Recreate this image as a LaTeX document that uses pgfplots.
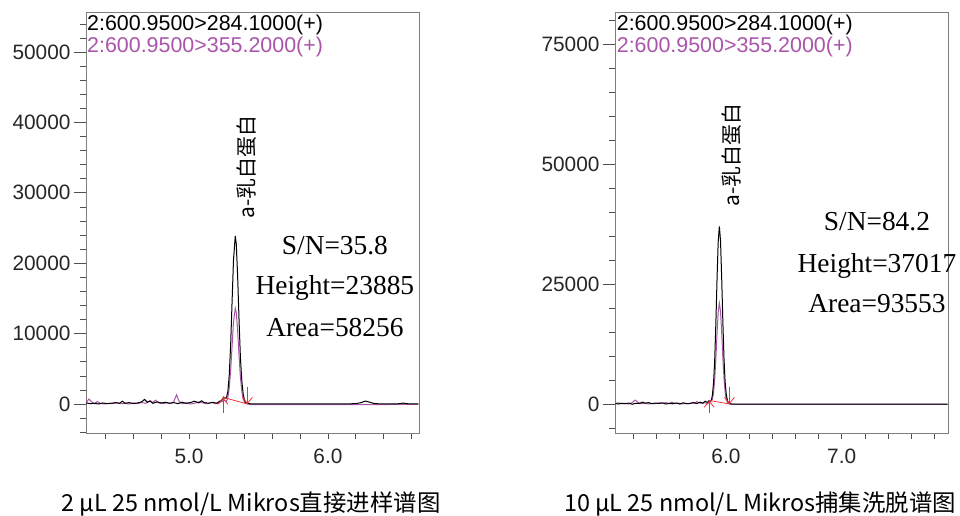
\documentclass[border=0pt]{standalone}
\usepackage{fontspec}
\setmainfont{Liberation Sans}
\newfontfamily\serif{Liberation Serif}
\newfontfamily\cjk{Noto Sans CJK SC}
\usepackage{pgfplots}
\pgfplotsset{compat=1.18}
\usetikzlibrary{arrows.meta}

\definecolor{axgray}{RGB}{125,125,125}
\definecolor{tkgray}{RGB}{80,80,80}
\definecolor{mrm}{RGB}{170,85,170}
\definecolor{intred}{RGB}{245,50,50}

\pgfplotsset{
  chrom/.style={
    scale only axis, width=333bp, height=421bp,
    anchor=south west, clip=false,
    axis line style={draw=axgray, line width=0.9bp},
    tick style={draw=tkgray, line width=0.6bp},
    tick align=outside, xtick pos=bottom, ytick pos=left,
    major tick length=12bp, minor tick length=6bp,
    major x tick style={draw=none},
    /pgf/number format/assume math mode=true,
    ticklabel style={font=\fontsize{20.9}{24}\selectfont, text=black!85},
  },
}
\tikzset{
  legtext/.style={font=\fontsize{21.5}{24}\selectfont, inner sep=0pt, anchor=base west},
  stattext/.style={font=\serif\fontsize{27.5}{30}\selectfont, inner sep=0pt, anchor=base},
  captext/.style={font=\cjk\fontsize{23.5}{26}\selectfont, inner sep=0pt, anchor=base},
  cmpdtext/.style={font=\cjk\fontsize{21}{24}\selectfont, inner sep=0pt, rotate=90},
}

\begin{document}
\begin{tikzpicture}
\useasboundingbox (0,0) rectangle (960bp,516bp);

% left: direct injection
\begin{axis}[chrom, at={(86bp,83bp)},
  xmin=4.259, xmax=6.655, ymin=-4120, ymax=55680,
  xtick={5.0,6.0}, xticklabels={5.0,6.0},
  minor xtick={4.4,4.6,4.8,5.0,5.2,5.4,5.6,5.8,6.0,6.2,6.4,6.6},
  ytick={0,10000,20000,30000,40000,50000},
  yticklabels={0,10000,20000,30000,40000,50000},
  minor ytick={-4000,-2000,2000,4000,6000,8000,12000,14000,16000,18000,22000,24000,26000,28000,32000,34000,36000,38000,42000,44000,46000,48000,52000,54000},
]
\addplot[mrm, line width=1bp] coordinates {
(4.26,200) (4.28,700) (4.30,300) (4.32,50) (4.34,350) (4.36,100) (4.39,0)
(4.42,100) (4.45,50) (4.48,150) (4.51,50) (4.54,100) (4.57,0) (4.60,150)
(4.63,50) (4.66,200) (4.69,100) (4.72,500) (4.74,200) (4.76,550) (4.78,150)
(4.81,50) (4.84,150) (4.87,100) (4.89,300) (4.91,1300) (4.93,350) (4.95,50)
(4.98,150) (5.01,0) (5.04,100) (5.07,300) (5.10,150) (5.13,50) (5.16,200)
(5.19,50) (5.22,200) (5.25,500) (5.27,400) (5.28,900) (5.29,2300) (5.30,4800)
(5.31,8200) (5.32,11600) (5.333,13600) (5.34,13000) (5.35,10400) (5.36,6900)
(5.37,3800) (5.38,1800) (5.39,700) (5.40,250) (5.42,0) (5.45,-100) (5.6,-80)
(5.8,-100) (6.0,-80) (6.2,-100) (6.4,-80) (6.55,-50) (6.65,-60)
};
\addplot[black, line width=1bp] coordinates {
(4.26,150) (4.29,50) (4.32,100) (4.35,0) (4.38,150) (4.41,50) (4.44,100)
(4.47,200) (4.50,100) (4.52,400) (4.54,100) (4.57,200) (4.60,50) (4.63,150)
(4.66,300) (4.68,650) (4.70,250) (4.72,400) (4.74,100) (4.77,300) (4.80,150)
(4.83,250) (4.86,100) (4.89,200) (4.92,50) (4.95,250) (4.98,100) (5.01,200)
(5.04,400) (5.07,150) (5.09,450) (5.11,200) (5.14,100) (5.17,250) (5.20,100)
(5.22,400) (5.235,500) (5.25,1000) (5.26,800) (5.27,900) (5.28,1800)
(5.29,4200) (5.30,8500) (5.31,14500) (5.32,20350) (5.333,23885) (5.34,22800)
(5.35,18200) (5.36,12000) (5.37,6600) (5.38,3300) (5.39,1400) (5.40,500)
(5.41,200) (5.43,50) (5.46,0) (5.55,30) (5.7,0) (5.9,20) (6.1,0) (6.2,50)
(6.24,200) (6.27,420) (6.30,250) (6.33,80) (6.36,30) (6.40,0) (6.50,20)
(6.54,120) (6.58,20) (6.65,0)
};
\addplot[color=intred, line width=0.8bp] coordinates {(5.245,950) (5.42,0)};
\addplot[color=intred, line width=0.8bp, -{Straight Barb[length=6bp,width=10bp]}] coordinates {(5.245,-1300) (5.245,900)};
\addplot[color=intred, line width=0.8bp, -{Straight Barb[length=6bp,width=10bp]}] coordinates {(5.42,2400) (5.42,0)};
\node[legtext, text=black] at (axis description cs:0.003,1) [yshift=-18.5bp] {2:600.9500>284.1000(+)};
\node[legtext, text=mrm] at (axis description cs:0.003,1) [yshift=-41bp] {2:600.9500>355.2000(+)};
\node[cmpdtext] at (axis cs:5.415,33660) {a-乳白蛋白};
\node[stattext] at (axis cs:6.05,21165) {S/N=35.8};
\node[stattext] at (axis cs:6.05,15483) {Height=23885};
\node[stattext] at (axis cs:6.05,9517) {Area=58256};
\node[captext] at (axis description cs:0.4955,-0.1853) {2 µL 25 nmol/L Mikros直接进样谱图};
\end{axis}

% right: trap and elute
\begin{axis}[chrom, at={(615bp,83bp)},
  xmin=5.041, xmax=7.919, ymin=-6040, ymax=81670,
  xtick={6.0,7.0}, xticklabels={6.0,7.0},
  minor xtick={5.2,5.4,5.6,5.8,6.0,6.2,6.4,6.6,6.8,7.0,7.2,7.4,7.6,7.8},
  ytick={0,25000,50000,75000},
  yticklabels={0,25000,50000,75000},
  minor ytick={-5000,5000,10000,15000,20000,30000,35000,40000,45000,55000,60000,65000,70000,80000},
]
\addplot[mrm, line width=1bp] coordinates {
(5.045,100) (5.07,250) (5.10,50) (5.13,150) (5.16,0) (5.19,300) (5.216,830)
(5.24,300) (5.27,50) (5.30,200) (5.33,0) (5.36,150) (5.39,50) (5.42,250)
(5.45,100) (5.48,300) (5.51,50) (5.53,400) (5.56,100) (5.59,200) (5.62,0)
(5.65,150) (5.68,50) (5.71,200) (5.73,100) (5.75,500) (5.78,150) (5.81,300)
(5.84,100) (5.86,400) (5.873,600) (5.883,1000) (5.893,2400) (5.903,5200)
(5.913,9600) (5.923,14800) (5.933,19200) (5.943,21000) (5.953,19300)
(5.963,14900) (5.973,9700) (5.983,5300) (5.993,2400) (6.003,900) (6.013,300)
(6.03,0) (6.1,-100) (6.5,-100) (7.0,-100) (7.5,-100) (7.915,-100)
};
\addplot[black, line width=1bp] coordinates {
(5.045,100) (5.07,0) (5.10,150) (5.13,50) (5.16,200) (5.19,-50) (5.22,150)
(5.25,100) (5.28,400) (5.30,150) (5.33,300) (5.36,50) (5.39,200) (5.42,100)
(5.45,250) (5.48,0) (5.51,150) (5.54,50) (5.57,200) (5.60,0) (5.63,250)
(5.66,50) (5.69,150) (5.72,300) (5.75,100) (5.78,400) (5.80,150) (5.82,600)
(5.84,300) (5.855,750) (5.865,650) (5.875,900) (5.883,1900) (5.893,4500)
(5.903,9400) (5.913,17000) (5.923,26200) (5.933,33900) (5.943,37017)
(5.953,34000) (5.963,26300) (5.973,17200) (5.983,9500) (5.993,4500)
(6.003,1900) (6.013,700) (6.023,250) (6.033,80) (6.05,0) (6.5,0) (7.0,0)
(7.5,0) (7.915,0)
};
\addplot[color=intred, line width=0.8bp] coordinates {(5.855,750) (6.03,0)};
\addplot[color=intred, line width=0.8bp, -{Straight Barb[length=6bp,width=10bp]}] coordinates {(5.855,-1900) (5.855,700)};
\addplot[color=intred, line width=0.8bp, -{Straight Barb[length=6bp,width=10bp]}] coordinates {(6.03,3500) (6.03,0)};
\node[legtext, text=black] at (axis description cs:0.005,1) [yshift=-18.5bp] {2:600.9500>284.1000(+)};
\node[legtext, text=mrm] at (axis description cs:0.005,1) [yshift=-41bp] {2:600.9500>355.2000(+)};
\node[cmpdtext] at (axis cs:6.048,51875) {a-乳白蛋白};
\node[stattext] at (axis cs:7.305,36250) {S/N=84.2};
\node[stattext] at (axis cs:7.305,27500) {Height=37017};
\node[stattext] at (axis cs:7.305,18960) {Area=93553};
\node[captext] at (axis description cs:0.4354,-0.1853) {10 µL 25 nmol/L Mikros捕集洗脱谱图};
\end{axis}
\end{tikzpicture}
\end{document}
